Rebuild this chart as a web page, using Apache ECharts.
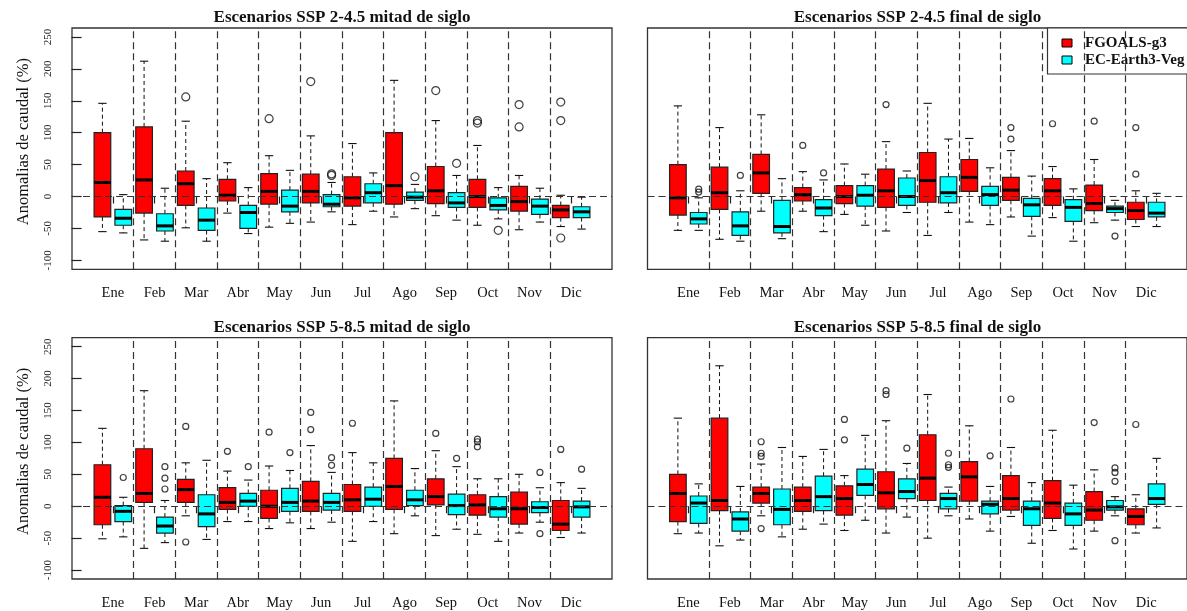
<!DOCTYPE html>
<html>
<head>
<meta charset="utf-8">
<title>Anomalías de caudal - escenarios SSP</title>
<script src="https://cdn.jsdelivr.net/npm/echarts@6/dist/echarts.min.js"></script>
<style>
  html, body { margin: 0; padding: 0; background: #ffffff; }
  #chart { width: 1187px; height: 611px; }
</style>
</head>
<body>
<div id="chart"></div>
<script>
// ---------------------------------------------------------------------------
// Data: anomalías de caudal (%) por mes
// Each box: [bigote inferior, Q1, mediana, Q3, bigote superior]
// Outliers: [índice de mes (0 = Ene), valor]
// ---------------------------------------------------------------------------
const months = ['Ene', 'Feb', 'Mar', 'Abr', 'May', 'Jun', 'Jul', 'Ago', 'Sep', 'Oct', 'Nov', 'Dic'];
const modelNames = ['FGOALS-g3', 'EC-Earth3-Veg'];
const yTickValues = [-100, -50, 0, 50, 100, 150, 200, 250];

// SSP 2-4.5, mitad de siglo
const ssp245MidFgoals = [
  [-55, -32, 22, 100, 146], [-68, -26, 26, 109, 212], [-49, -14, 20, 40, 118],
  [-26, -7, 2, 27, 53], [-48, -12, 8, 36, 64], [-40, -10, 8, 35, 95],
  [-44, -15, -2, 31, 83], [-32, -12, 17, 100, 182], [-30, -11, 9, 47, 119],
  [-45, -17, 0, 27, 80], [-52, -23, -8, 16, 33], [-47, -33, -21, -14, 2]
];
const ssp245MidEcEarth = [
  [-57, -45, -34, -20, 3], [-70, -54, -46, -27, 13], [-70, -53, -37, -18, 28],
  [-58, -50, -25, -14, 14], [-42, -24, -15, 10, 41], [-24, -16, -12, 3, 22],
  [-23, -10, 6, 20, 37], [-19, -6, -1, 7, 19], [-37, -17, -10, 6, 33],
  [-35, -21, -14, -2, 14], [-40, -28, -15, -4, 13], [-51, -33, -24, -16, -1]
];
const ssp245MidFgoalsOut = [[2, 156], [4, 122], [5, 180], [8, 166], [9, 119], [9, 115], [10, 144], [10, 109], [11, 148], [11, 119], [11, -65]];
const ssp245MidEcEarthOut = [[5, 35.5], [5, 33], [7, 31], [8, 52], [9, -53]];

// SSP 2-4.5, final de siglo
const ssp245EndFgoals = [
  [-53, -29, -2, 50, 142], [-67, -20, 6, 46, 108], [-23, 5, 37, 66, 128],
  [-23, -7, 3, 14, 39], [-28, -11, 0, 17, 51], [-54, -17, 9, 43, 86],
  [-61, -9, 25, 69, 146], [-40, 8, 30, 58, 91], [-32, -6, 10, 30, 72],
  [-33, -14, 9, 28, 47], [-41, -22, -11, 18, 58], [-47, -36, -22, -9, 9]
];
const ssp245EndEcEarth = [
  [-53, -43, -35, -25, -2], [-70, -61, -46, -24, 9], [-66, -57, -47, -6, 28],
  [-55, -30, -18, -5, 26], [-45, -15, 2, 17, 35], [-25, -14, 0, 29, 40],
  [-25, -10, 6, 31, 90], [-44, -14, 3, 16, 45], [-62, -31, -13, -3, 32],
  [-70, -39, -17, -5, 12], [-37, -25, -19, -15, -6], [-47, -32, -26, -9, 5]
];
const ssp245EndFgoalsOut = [[3, 80], [5, 144], [8, 108], [8, 90], [9, 114], [10, 118], [11, 108], [11, 35]];
const ssp245EndEcEarthOut = [[0, 11.5], [0, 7], [1, 33], [3, 37], [10, -62]];

// SSP 5-8.5, mitad de siglo
const ssp585MidFgoals = [
  [-51, -29, 14, 65, 122], [-66, 6, 20, 90, 181], [-15, 6, 26, 42, 68],
  [-24, -5, 6, 29, 55], [-35, -19, 0, 25, 63], [-35, -8, 8, 39, 95],
  [-55, -8, 10, 34, 84], [-43, -5, 31, 75, 165], [-46, 2, 15, 43, 87],
  [-44, -14, 2, 18, 43], [-42, -28, -4, 22, 50], [-49, -38, -28, 9, 37]
];
const ssp585MidEcEarth = [
  [-48, -24, -8, 1, 14], [-57, -42, -31, -17, 9], [-52, -32, -12, 18, 72],
  [-24, 0, 8, 20, 41], [-26, -8, 6, 28, 56], [-25, -6, 6, 20, 53],
  [-24, 0, 11, 30, 68], [-15, 1, 10, 25, 59], [-36, -13, 1, 19, 62],
  [-55, -17, -4, 15, 43], [-25, -10, -2, 7, 29], [-42, -17, -1, 8, 28]
];
const ssp585MidFgoalsOut = [[2, 125], [2, -56], [3, 86], [4, 116], [5, 147], [5, 120], [6, 130], [8, 114], [9, 105], [9, 101], [9, 93], [11, 89]];
const ssp585MidEcEarthOut = [[0, 45], [1, 62], [1, 44], [1, 27], [3, 62], [4, 84], [5, 76], [5, 64], [8, 75], [10, 53], [10, -43], [11, 58]];

// SSP 5-8.5, final de siglo
const ssp585EndFgoals = [
  [-43, -24, 20, 50, 138], [-62, -7, 9, 138, 220], [-15, 5, 20, 30, 66],
  [-36, -8, 9, 30, 78], [-38, -14, 12, 32, 48], [-42, -4, 21, 54, 134],
  [-50, 9, 44, 112, 175], [-20, 8, 46, 70, 126], [-16, -6, 12, 48, 92],
  [-38, -19, 5, 40, 119], [-39, -22, -6, 23, 57], [-42, -29, -16, -4, 18]
];
const ssp585EndEcEarth = [
  [-42, -27, 5, 16, 35], [-53, -39, -20, -9, 31], [-48, -29, -5, 27, 92],
  [-28, -7, 15, 47, 89], [-22, 17, 34, 58, 111], [-17, 12, 23, 43, 67],
  [-15, -4, 12, 20, 30], [-39, -12, 3, 8, 31], [-58, -30, -4, 8, 37],
  [-67, -30, -12, 5, 33], [-15, -6, -1, 9, 15], [-34, 3, 12, 35, 75]
];
const ssp585EndFgoalsOut = [[2, 101], [2, 83], [2, 78], [2, -35], [4, 136], [4, 104], [5, 181], [5, 175], [8, 168], [10, 131], [11, 128]];
const ssp585EndEcEarthOut = [[5, 91], [6, 83], [6, 65], [6, 61], [7, 79], [10, 60], [10, 53], [10, 39], [10, -54]];

// ---------------------------------------------------------------------------
// Panel layout
// ---------------------------------------------------------------------------
const panels = [
  { title: 'Escenarios SSP 2-4.5 mitad de siglo', left: 72, top: 28, yLabels: true,
    fg: ssp245MidFgoals, ec: ssp245MidEcEarth, fgOut: ssp245MidFgoalsOut, ecOut: ssp245MidEcEarthOut, outSize: 8 },
  { title: 'Escenarios SSP 2-4.5 final de siglo', left: 647.5, top: 28, yLabels: false,
    fg: ssp245EndFgoals, ec: ssp245EndEcEarth, fgOut: ssp245EndFgoalsOut, ecOut: ssp245EndEcEarthOut, outSize: 6 },
  { title: 'Escenarios SSP 5-8.5 mitad de siglo', left: 72, top: 337.7, yLabels: true,
    fg: ssp585MidFgoals, ec: ssp585MidEcEarth, fgOut: ssp585MidFgoalsOut, ecOut: ssp585MidEcEarthOut, outSize: 6 },
  { title: 'Escenarios SSP 5-8.5 final de siglo', left: 647.5, top: 337.7, yLabels: false,
    fg: ssp585EndFgoals, ec: ssp585EndEcEarth, fgOut: ssp585EndFgoalsOut, ecOut: ssp585EndEcEarthOut, outSize: 6 }
];
const PANEL_W = 540;
const PANEL_H = 241.3;
const FONT = "'Liberation Serif', 'DejaVu Serif', serif";
const INK = '#111';

// Box positions: FGOALS at 1,3,5,... EC-Earth at 2,4,6,...; month centre between them
const monthCentres = months.map((m, i) => 2 * i + 1.5);
const separators = months.slice(1).map((m, i) => 2 * i + 2.5);

// Draws one R-style box: dashed whiskers, solid staples, filled box, thick median
function drawBox(params, api) {
  const x = api.value(0);
  const lo = api.value(1), q1 = api.value(2), md = api.value(3), q3 = api.value(4), hi = api.value(5);
  const w = api.size([0.8, 0])[0];
  const half = w / 2;
  const staple = w / 4;
  const cx = api.coord([x, 0])[0];
  const yy = v => api.coord([x, v])[1];
  const yLo = yy(lo), yQ1 = yy(q1), yMd = yy(md), yQ3 = yy(q3), yHi = yy(hi);
  const whisk = { stroke: INK, lineWidth: 1, lineDash: [4, 3] };
  const solid = { stroke: INK, lineWidth: 1.1 };
  return {
    type: 'group',
    children: [
      { type: 'line', shape: { x1: cx, y1: yQ3, x2: cx, y2: yHi }, style: whisk },
      { type: 'line', shape: { x1: cx, y1: yQ1, x2: cx, y2: yLo }, style: whisk },
      { type: 'line', shape: { x1: cx - staple, y1: yHi, x2: cx + staple, y2: yHi }, style: solid },
      { type: 'line', shape: { x1: cx - staple, y1: yLo, x2: cx + staple, y2: yLo }, style: solid },
      { type: 'rect', shape: { x: cx - half, y: yQ3, width: w, height: yQ1 - yQ3 },
        style: { fill: api.visual('color'), stroke: '#222', lineWidth: 1.2 } },
      { type: 'line', shape: { x1: cx - half, y1: yMd, x2: cx + half, y2: yMd }, style: { stroke: '#000', lineWidth: 3 } }
    ]
  };
}

const grids = [], xAxes = [], yAxes = [], series = [], titles = [];

panels.forEach((p, k) => {
  grids.push({
    left: p.left, top: p.top, width: PANEL_W, height: PANEL_H,
    show: true, borderColor: '#333', borderWidth: 1.3, backgroundColor: 'transparent'
  });

  titles.push({
    text: p.title,
    left: p.left + PANEL_W / 2,
    top: p.top - 19,
    textAlign: 'center',
    padding: 0,
    textStyle: { fontFamily: FONT, fontWeight: 'bold', fontSize: 17, color: INK }
  });

  xAxes.push({
    type: 'value', gridIndex: k, min: -0.46, max: 25.46,
    axisLine: { show: false },
    splitLine: { show: false },
    axisTick: { show: true, customValues: monthCentres, length: 7, lineStyle: { color: '#222', width: 1.2 } },
    axisLabel: {
      show: true, customValues: monthCentres, margin: 16.5,
      formatter: v => months[Math.round((v - 1.5) / 2)],
      fontFamily: FONT, fontSize: 14.5, color: INK
    }
  });

  yAxes.push({
    type: 'value', gridIndex: k, min: -114, max: 264,
    axisLine: { show: false },
    splitLine: { show: false },
    axisTick: { show: p.yLabels, customValues: yTickValues, length: 10, lineStyle: { color: '#222', width: 1.2 } },
    axisLabel: {
      show: p.yLabels, customValues: yTickValues, rotate: 90, margin: 18,
      fontFamily: FONT, fontSize: 11, color: '#222'
    },
    name: p.yLabels ? 'Anomalias de caudal (%)' : '',
    nameLocation: 'middle',
    nameGap: 40,
    nameTextStyle: { fontFamily: FONT, fontSize: 16.5, color: INK, padding: [0, 0, 0, 14] }
  });

  // Reference lines (zero anomaly and month separators) and outliers
  series.push({
    type: 'scatter', name: 'atípicos', xAxisIndex: k, yAxisIndex: k, z: 1,
    symbol: 'circle', symbolSize: p.outSize,
    itemStyle: { color: 'rgba(255,255,255,0)', borderColor: INK, borderWidth: 1.2 },
    data: p.fgOut.map(([m, v]) => [2 * m + 1, v]).concat(p.ecOut.map(([m, v]) => [2 * m + 2, v])),
    markLine: {
      silent: true, symbol: ['none', 'none'], label: { show: false }, animation: false,
      lineStyle: { color: '#333', type: [7, 4], width: 1.2 },
      data: [{ yAxis: 0 }].concat(separators.map(x => ({ xAxis: x })))
    }
  });

  series.push({
    type: 'custom', name: modelNames[0], xAxisIndex: k, yAxisIndex: k, z: 3,
    itemStyle: { color: '#ff0000' },
    renderItem: drawBox,
    encode: { x: 0, y: [1, 2, 3, 4, 5] },
    data: p.fg.map((b, i) => [2 * i + 1].concat(b))
  });
  series.push({
    type: 'custom', name: modelNames[1], xAxisIndex: k, yAxisIndex: k, z: 3,
    itemStyle: { color: '#00ffff' },
    renderItem: drawBox,
    encode: { x: 0, y: [1, 2, 3, 4, 5] },
    data: p.ec.map((b, i) => [2 * i + 2].concat(b))
  });
});

const chart = echarts.init(document.getElementById('chart'), null, { renderer: 'canvas' });
chart.setOption({
  animation: false,
  backgroundColor: '#ffffff',
  title: titles,
  grid: grids,
  xAxis: xAxes,
  yAxis: yAxes,
  legend: {
    data: modelNames,
    orient: 'vertical',
    left: 1047.5, top: 28,
    icon: 'rect', itemWidth: 10, itemHeight: 8, itemGap: 1,
    padding: [7, 40, 6, 14],
    borderColor: '#333', borderWidth: 1.2, backgroundColor: '#ffffff',
    selectedMode: false,
    itemStyle: { borderColor: '#000', borderWidth: 1 },
    textStyle: { fontFamily: FONT, fontWeight: 'bold', fontSize: 15, color: INK, lineHeight: 16, padding: [0, 0, 0, 8] }
  },
  series: series
});
</script>
</body>
</html>
